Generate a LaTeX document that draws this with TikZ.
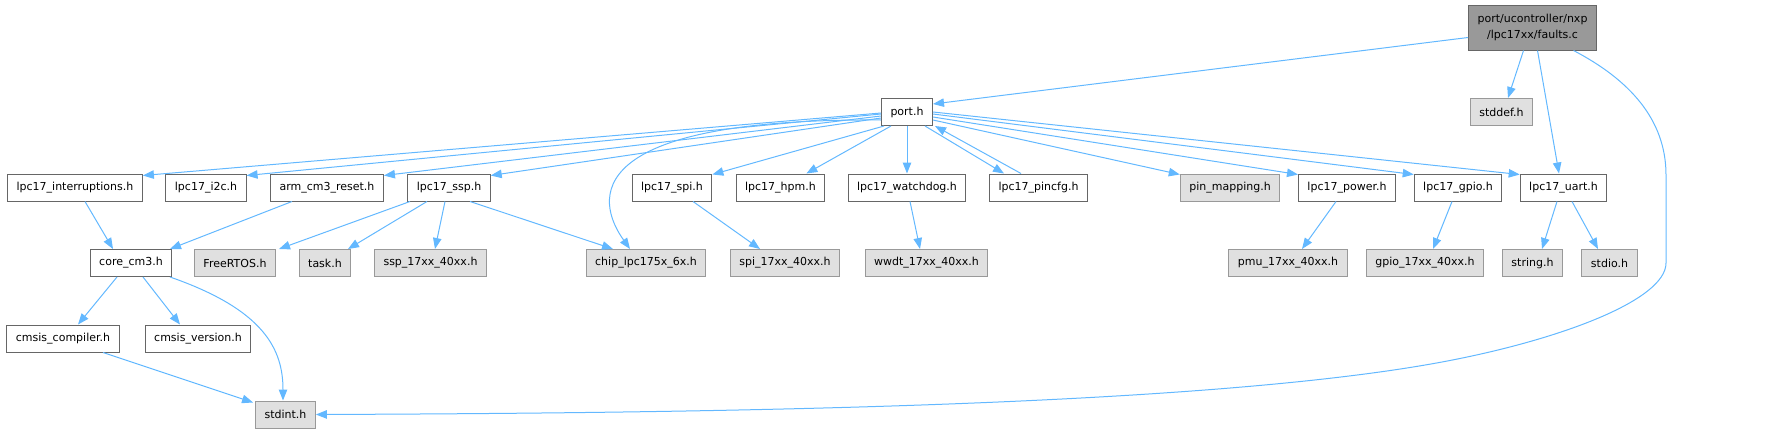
\documentclass[tikz,border=0pt]{standalone}
\usepackage{fontspec}
\setsansfont{DejaVu Sans}
\usepackage{tikz}
\usetikzlibrary{positioning, arrows.meta}

\definecolor{edgeblue}{HTML}{63B8FF}
\definecolor{docgray}{HTML}{666666}
\definecolor{extgray}{HTML}{999999}
\definecolor{extfillgray}{HTML}{E0E0E0}
\definecolor{rootgray}{HTML}{999999}

\begin{document}
\begin{tikzpicture}[
  x=1pt, y=-1pt,
  font=\sffamily\fontsize{11}{16}\selectfont,
  file/.style={draw=docgray, fill=white, line width=1pt,
    minimum height=27pt, inner xsep=9pt, inner ysep=2pt},
  extfile/.style={file, draw=extgray, fill=extfillgray},
  rootfile/.style={file, fill=rootgray, align=center, minimum height=45pt},
  edge/.style={draw=edgeblue, line width=1pt,
    -{Triangle[length=11pt, width=8.5pt]}},
]
  \useasboundingbox (0,0) rectangle (1777,434);

  % top
  \node[rootfile] (faults) at (1532.5,27.5) {port/ucontroller/nxp\\/lpc17xx/faults.c};
  \node[file]    (port)   at (907,112)    {port.h};
  \node[extfile] (stddef) at (1501.5,112) {stddef.h};

  % headers included by port.h
  \node[file]    (intr)   at (75,187.5)   {lpc17\_interruptions.h};
  \node[file]    (itwoc)  at (206,187.5)  {lpc17\_i2c.h};
  \node[file]    (reset)  at (327,187.5)  {arm\_cm3\_reset.h};
  \node[file]    (ssp)    at (449,187.5)  {lpc17\_ssp.h};
  \node[file]    (spi)    at (672,187.5)  {lpc17\_spi.h};
  \node[file]    (hpm)    at (780.5,187.5){lpc17\_hpm.h};
  \node[file]    (wdog)   at (907,187.5)  {lpc17\_watchdog.h};
  \node[file]    (pincfg) at (1038.5,187.5){lpc17\_pincfg.h};
  \node[extfile] (pinmap) at (1230,187.5) {pin\_mapping.h};
  \node[file]    (power)  at (1347,187.5) {lpc17\_power.h};
  \node[file]    (gpio)   at (1458,187.5) {lpc17\_gpio.h};
  \node[file]    (uart)   at (1563.5,187.5){lpc17\_uart.h};

  % third row
  \node[file]    (core)   at (131,263)    {core\_cm3.h};
  \node[extfile] (rtos)   at (235,263)    {FreeRTOS.h};
  \node[extfile] (task)   at (325,263)    {task.h};
  \node[extfile] (sspx)   at (430.5,263)  {ssp\_17xx\_40xx.h};
  \node[extfile] (chip)   at (646,263)    {chip\_lpc175x\_6x.h};
  \node[extfile] (spix)   at (785,263)    {spi\_17xx\_40xx.h};
  \node[extfile] (wwdt)   at (926.5,263)  {wwdt\_17xx\_40xx.h};
  \node[extfile] (pmu)    at (1288,263)   {pmu\_17xx\_40xx.h};
  \node[extfile] (gpiox)  at (1425,263)   {gpio\_17xx\_40xx.h};
  \node[extfile] (string) at (1532.5,263) {string.h};
  \node[extfile] (stdio)  at (1609.5,263) {stdio.h};

  % cmsis
  \node[file]    (ccomp)  at (63,338.5)   {cmsis\_compiler.h};
  \node[file]    (cver)   at (198,338.5)  {cmsis\_version.h};
  \node[extfile] (stdint) at (285.5,414.5){stdint.h};

  % faults.c
  \draw[edge] ([yshift=-10pt]faults.west) -- ([yshift=8pt]port.east);
  \draw[edge] ([xshift=-9pt]faults.south) -- ([xshift=6.5pt]stddef.north);
  \draw[edge] ([xshift=5pt]faults.south) -- ([xshift=-4.5pt]uart.north);
  \draw[edge] ([xshift=41pt]faults.south) .. controls (1630,80) and (1666,120) .. (1666,175)
    -- (1666,263) .. controls (1666,300) and (1560,340) .. (1442,362)
    .. controls (1200,407) and (700,413) .. (stdint.east);

  % port.h
  \draw[edge] ([yshift=-1pt]port.west) -- ([yshift=-2pt]intr.north east);
  \draw[edge] ([yshift=-2pt]port.west) -- ([yshift=-2pt]itwoc.north east);
  \draw[edge] ([yshift=-4pt]port.west) -- ([yshift=-2pt]reset.north east);
  \draw[edge] ([yshift=-6pt]port.west) -- ([yshift=-2pt]ssp.north east);
  \draw[edge] ([yshift=-8pt]port.west) .. controls (580,118) and (595,200) .. ([xshift=-16pt]chip.north);
  \draw[edge] ([xshift=3pt]port.south west) -- ([yshift=-1pt]spi.north east);
  \draw[edge] ([xshift=10pt]port.south west) -- ([xshift=-19pt]hpm.north east);
  \draw[edge] (port.south) -- (wdog.north);
  \draw[edge] ([xshift=-8pt]port.south east) -- ([xshift=15pt]pincfg.north west);
  \draw[edge] ([xshift=32pt]pincfg.north west) -- ([xshift=2pt]port.south east);
  \draw[edge] ([yshift=-8pt]port.east) -- ([yshift=-1pt]pinmap.north west);
  \draw[edge] ([yshift=-5pt]port.east) -- ([yshift=-1pt]power.north west);
  \draw[edge] ([yshift=-2pt]port.east) -- ([yshift=-1pt]gpio.north west);
  \draw[edge] (port.east) -- ([yshift=-1pt]uart.north west);

  % second row
  \draw[edge] ([xshift=10pt]intr.south) -- ([xshift=-18pt]core.north);
  \draw[edge] ([xshift=-35pt]reset.south) -- ([xshift=39pt]core.north);
  \draw[edge] ([xshift=-39pt]ssp.south) -- ([xshift=3pt]rtos.north east);
  \draw[edge] ([xshift=-22pt]ssp.south) -- ([xshift=23pt]task.north);
  \draw[edge] ([xshift=-4pt]ssp.south) -- ([xshift=4.5pt]sspx.north);
  \draw[edge] ([xshift=21pt]ssp.south) -- ([xshift=-33pt]chip.north);
  \draw[edge] ([xshift=21pt]spi.south) -- ([xshift=-25pt]spix.north);
  \draw[edge] ([xshift=3pt]wdog.south) -- ([xshift=-6.5pt]wwdt.north);
  \draw[edge] ([xshift=-11pt]power.south) -- ([xshift=14pt]pmu.north);
  \draw[edge] ([xshift=-6pt]gpio.south) -- ([xshift=8pt]gpiox.north);
  \draw[edge] ([xshift=-6.5pt]uart.south) -- ([xshift=9.5pt]string.north);
  \draw[edge] ([xshift=8.5pt]uart.south) -- ([xshift=-11.5pt]stdio.north);

  % core_cm3.h
  \draw[edge] ([xshift=-14pt]core.south) -- ([xshift=15pt]ccomp.north);
  \draw[edge] ([xshift=12pt]core.south) -- ([xshift=-18pt]cver.north);
  \draw[edge] ([xshift=39pt]core.south) .. controls (265,310) and (283,350) .. ([xshift=-2.5pt]stdint.north);
  \draw[edge] ([xshift=40pt]ccomp.south) -- ([xshift=-2pt,yshift=-2pt]stdint.north west);
\end{tikzpicture}
\end{document}
